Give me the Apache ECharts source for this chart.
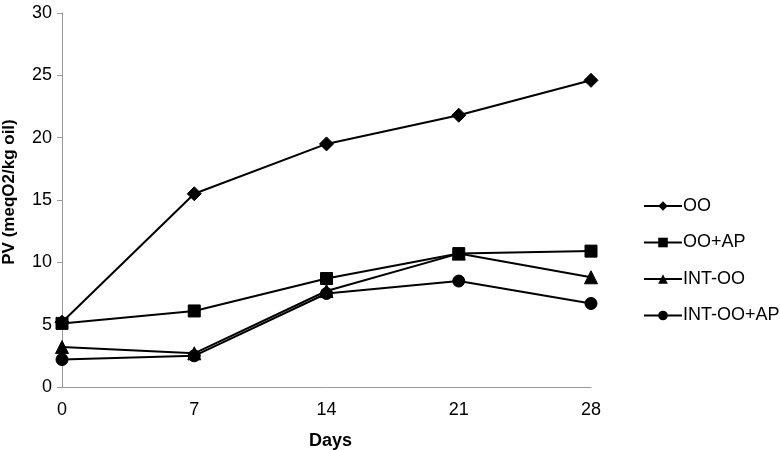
<!DOCTYPE html>
<html><head><meta charset="utf-8">
<script src="https://cdn.jsdelivr.net/npm/echarts@6/dist/echarts.min.js"></script>
<style>html,body{margin:0;padding:0;background:#fff}#c{width:780px;height:450px}</style>
</head><body><div id="c"></div>
<script>
const days = ['0', '7', '14', '21', '28'];
const seriesNames = ['OO', 'OO+AP', 'INT-OO', 'INT-OO+AP'];
const oo = [5.2, 15.5, 19.5, 21.8, 24.6];
const ooAp = [5.1, 6.1, 8.7, 10.7, 10.9];
const intOo = [3.2, 2.7, 7.7, 10.7, 8.8];
const intOoAp = [2.2, 2.5, 7.5, 8.5, 6.7];
const yTicks = [0, 5, 10, 15, 20, 25, 30];

const values = [oo, ooAp, intOo, intOoAp];
const symbols = ['diamond', 'rect', 'triangle', 'circle'];
const sizes = [14, 12, 13, 12];
const font = 'Liberation Sans, Arial, Helvetica, sans-serif';

const chart = echarts.init(document.getElementById('c'));
chart.setOption({
  animation: false,
  backgroundColor: '#fff',
  grid: {left: 62, right: 189, top: 13, bottom: 63, containLabel: false, outerBoundsMode: 'none'},
  legend: {
    orient: 'vertical', left: 638, top: 192, itemGap: 18.5,
    itemWidth: 38, itemHeight: 12,
    textStyle: {fontFamily: font, fontSize: 18, color: '#000', padding: [0,0,0,-4]},
    data: seriesNames
  },
  xAxis: {
    type: 'category', data: days, boundaryGap: false,
    name: 'Days', nameLocation: 'middle', nameGap: 45,
    nameTextStyle: {fontFamily: font, fontSize: 18, fontWeight: 'bold', color: '#000', padding: [0,0,0,8]},
    axisLine: {lineStyle: {color: '#999', width: 1}},
    axisTick: {show: false},
    axisLabel: {fontFamily: font, fontSize: 18, color: '#000', margin: 14},
    splitLine: {show: false}
  },
  yAxis: {
    type: 'value', min: yTicks[0], max: yTicks[yTicks.length-1], interval: 5,
    name: 'PV (meqO2/kg oil)', nameLocation: 'middle', nameGap: 44,
    nameTextStyle: {fontFamily: font, fontSize: 17, fontWeight: 'bold', color: '#000', padding: [0,0,0,16]},
    axisLine: {show: true, lineStyle: {color: '#999', width: 1}},
    axisTick: {show: true, length: 5, lineStyle: {color: '#999'}},
    axisLabel: {fontFamily: font, fontSize: 18, color: '#000', margin: 10},
    splitLine: {show: false}
  },
  series: seriesNames.map((n, i) => ({
    name: n, type: 'line', data: values[i],
    symbol: symbols[i], symbolSize: sizes[i], showAllSymbol: true,
    lineStyle: {color: '#000', width: 2},
    itemStyle: {color: '#000', borderColor: '#000'},
    emphasis: {disabled: true}
  }))
});
</script></body></html>
